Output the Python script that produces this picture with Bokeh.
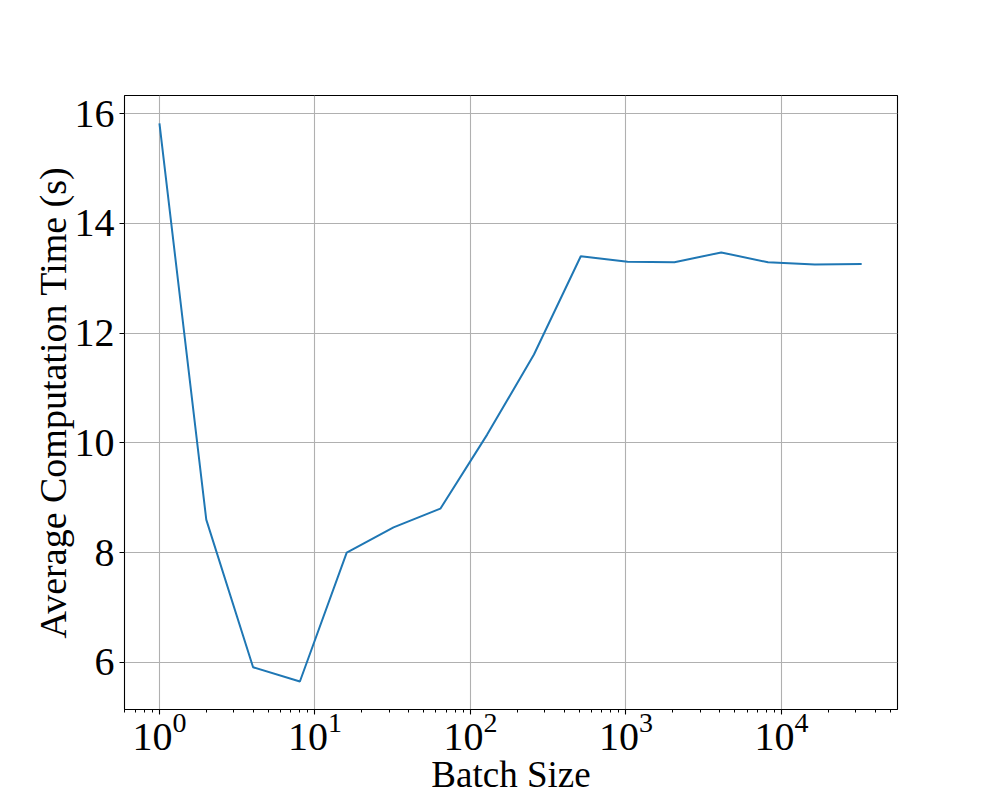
from bokeh.plotting import figure
from bokeh.embed import file_html
from bokeh.resources import INLINE
from bokeh.models import FixedTicker, Range1d

batch_sizes = [1, 2, 4, 8, 16, 32, 64, 128, 256, 512, 1024, 2048, 4096, 8192, 16384, 32768]
avg_time = [15.82, 8.60, 5.91, 5.65, 8.00, 8.46, 8.80, 10.15, 11.61, 13.40, 13.30, 13.29, 13.47, 13.29, 13.25, 13.26]
y_ticks = [6, 8, 10, 12, 14, 16]

FONT = "Liberation Serif"

p = figure(width=990, height=797, x_axis_type="log",
           x_range=Range1d(0.596, 55700), y_range=Range1d(5.14, 16.33),
           output_backend="svg", toolbar_location=None,
           min_border_left=124, min_border_right=93, min_border_top=95, min_border_bottom=88)

p.line(batch_sizes, avg_time, line_color="#1f77b4", line_width=2)

p.outline_line_color = "black"
p.outline_line_width = 1.1
p.background_fill_color = "white"
p.border_fill_color = "white"

p.grid.grid_line_color = "#b0b0b0"
p.grid.grid_line_width = 1.1
p.xgrid.minor_grid_line_color = None

p.yaxis.ticker = FixedTicker(ticks=y_ticks)
p.yaxis.minor_tick_line_color = None

for ax in (p.xaxis[0], p.yaxis[0]):
    ax.axis_line_color = None
    ax.major_tick_in = 0
    ax.major_tick_out = 5
    ax.major_tick_line_width = 1.1
    ax.minor_tick_in = 0
    ax.minor_tick_out = 3
    ax.minor_tick_line_width = 1
    ax.major_label_text_font = FONT
    ax.axis_label_text_font = FONT
    ax.axis_label_text_font_style = "normal"
    ax.major_label_text_color = "black"
    ax.axis_label_text_color = "black"

p.yaxis.major_label_text_font_size = "40px"
p.xaxis.major_label_text_font_size = "40px"
p.xaxis.axis_label = "Batch Size"
p.yaxis.axis_label = "Average Computation Time (s)"
p.xaxis.axis_label_text_font_size = "37px"
p.yaxis.axis_label_text_font_size = "38px"
p.xaxis.major_label_standoff = -2
p.xaxis.axis_label_standoff = 1
p.yaxis.major_label_standoff = 5
p.yaxis.axis_label_standoff = -2

open("out.html", "w").write(file_html(p, INLINE))
